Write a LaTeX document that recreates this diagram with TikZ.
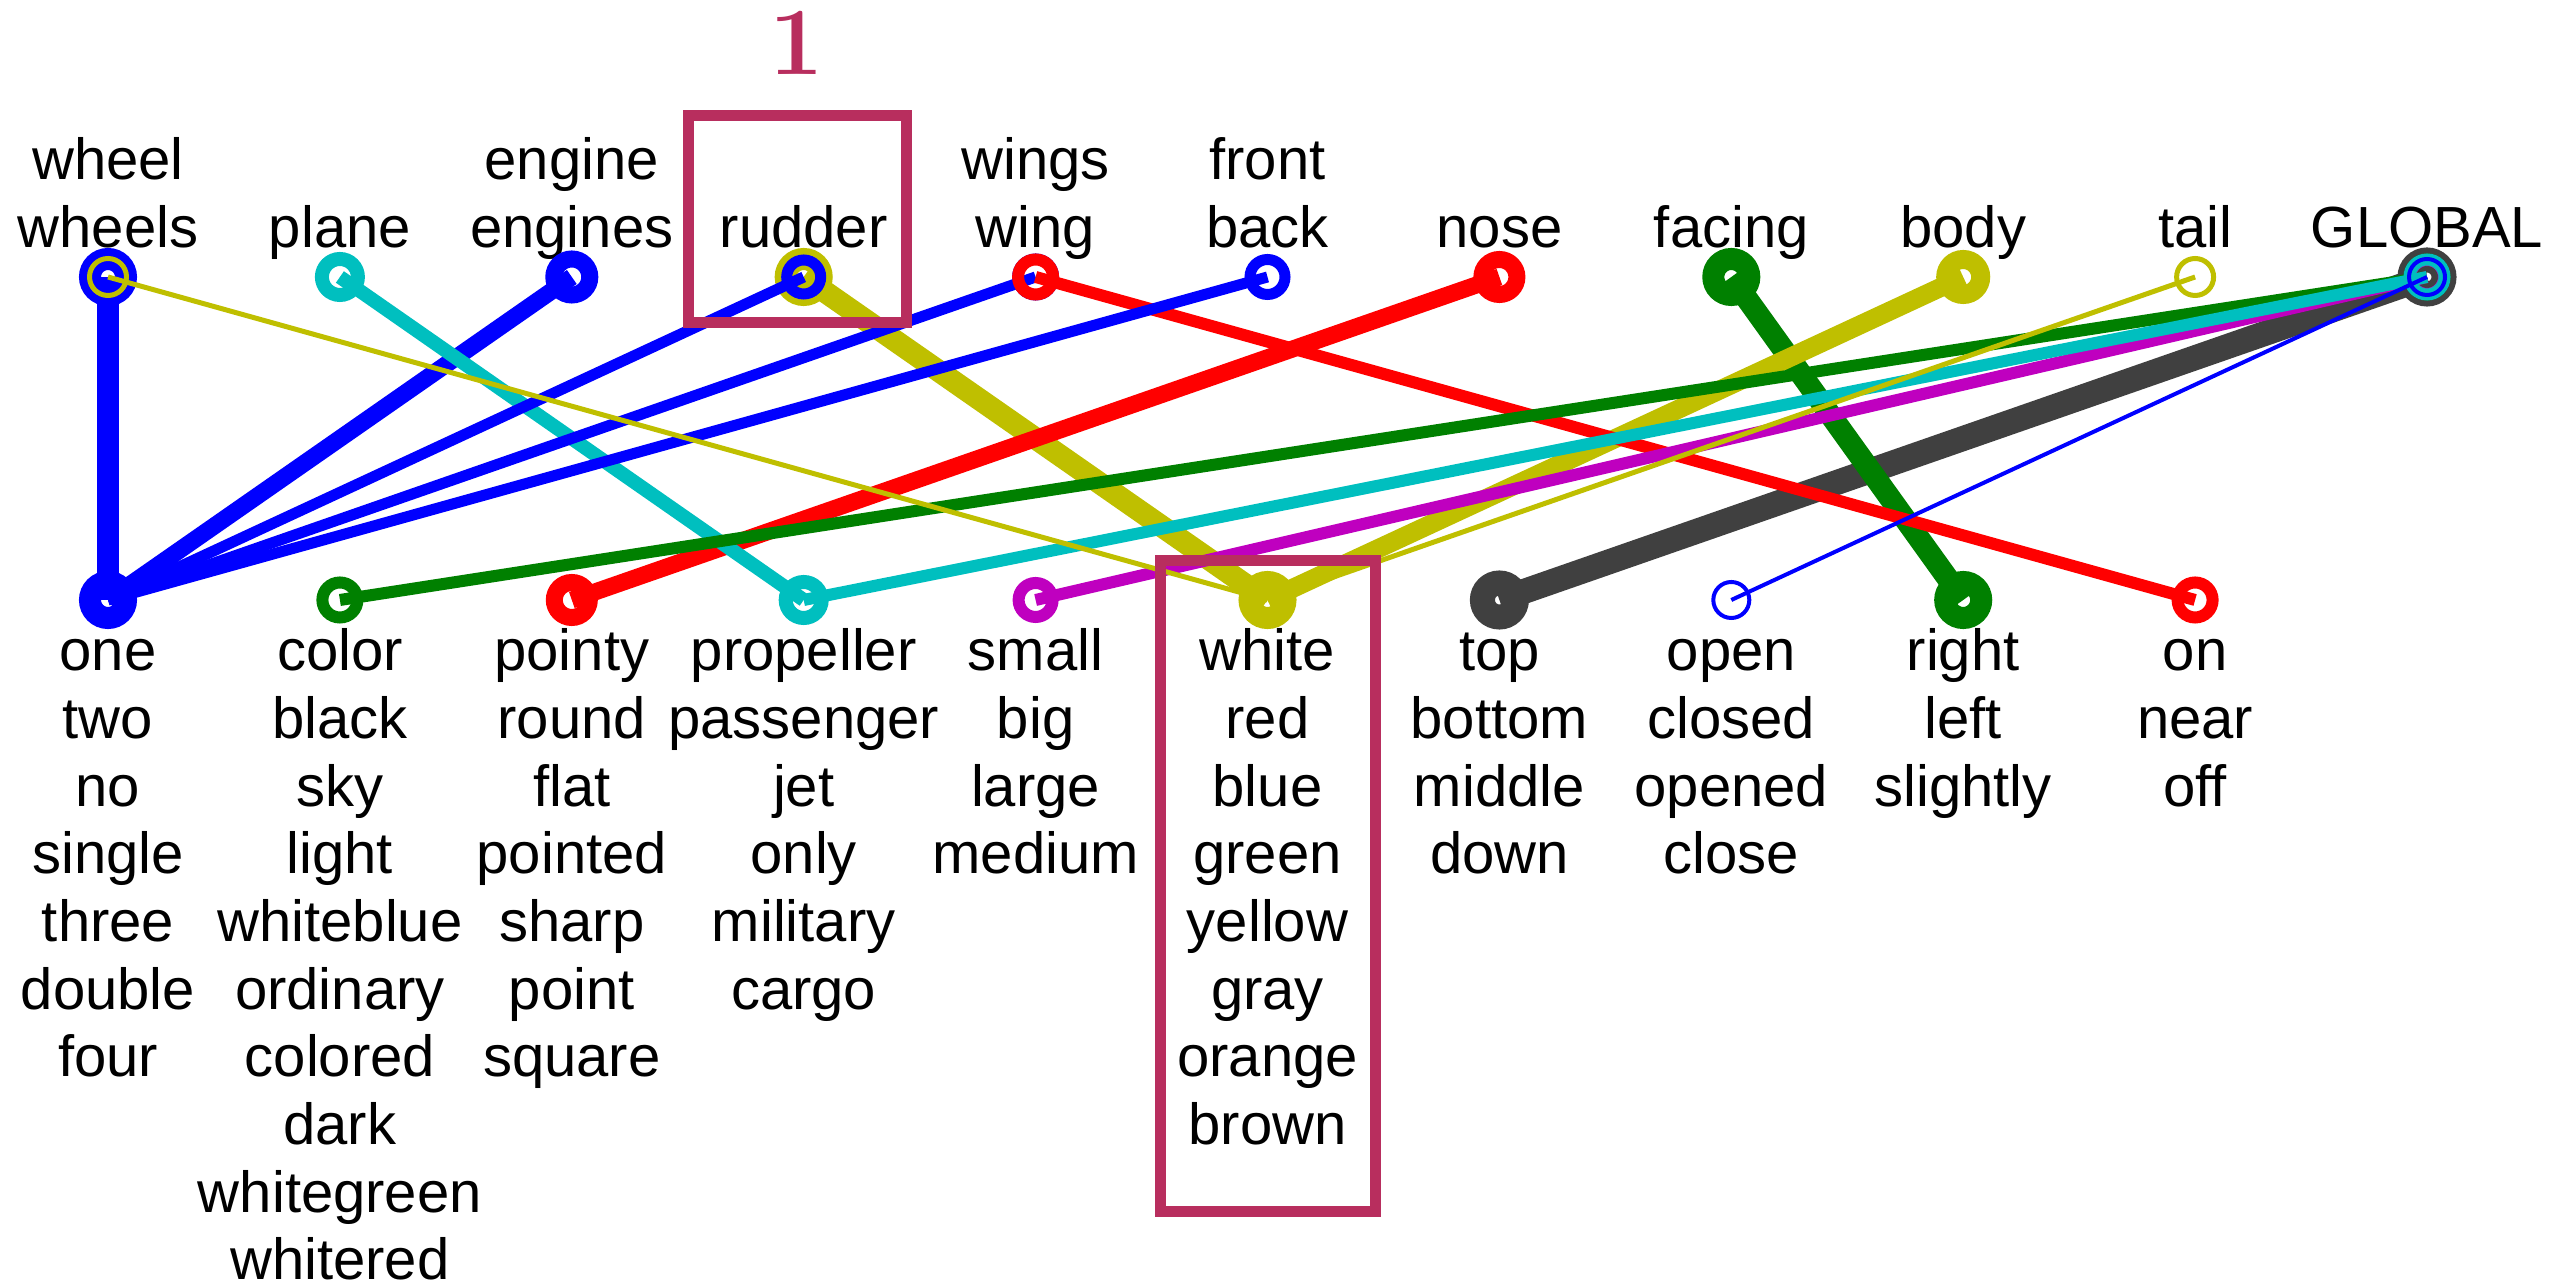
\documentclass[tikz,border=0pt]{standalone}
\usepackage{fontspec}
\newfontfamily\lab{Liberation Sans}
\definecolor{cb}{HTML}{0000FF}
\definecolor{cy}{HTML}{BFBF00}
\definecolor{cc}{HTML}{00BFBF}
\definecolor{cr}{HTML}{FF0000}
\definecolor{cg}{HTML}{008000}
\definecolor{cm}{HTML}{BF00BF}
\definecolor{ck}{HTML}{404040}
\definecolor{boxc}{HTML}{B82E5E}
% #1 from, #2 to, #3 width (px), #4 colour, #5 ring radius (px)
\newcommand\linkedge[5]{%
  \draw[line width=#3*0.2845pt, draw=#4, line cap=butt] (#1) -- (#2);
  \draw[line width=#3*0.2845pt, draw=#4] (#1) circle[radius=#5*0.01cm] (#2) circle[radius=#5*0.01cm];
}
\begin{document}
\begin{tikzpicture}[x=0.01cm,y=-0.01cm]
\tikzset{
  lbl/.style={font=\lab\fontsize{16.5}{19.25}\selectfont, align=center, anchor=base, inner sep=0pt},
  hibox/.style={draw=boxc, line width=3.13pt, rectangle, inner sep=0pt},
}
\useasboundingbox (0,0) rectangle (2566,1286);
% vertices
\coordinate (wheel) at (108,277);
\coordinate (plane) at (339.9,277);
\coordinate (engine) at (571.8,277);
\coordinate (rudder) at (803.7,277);
\coordinate (wing) at (1035.6,277);
\coordinate (back) at (1267.5,277);
\coordinate (nose) at (1499.4,277);
\coordinate (facing) at (1731.3,277);
\coordinate (body) at (1963.2,277);
\coordinate (tail) at (2195.1,277);
\coordinate (global) at (2427,277);
\coordinate (one) at (108,600);
\coordinate (color) at (339.9,600);
\coordinate (pointy) at (571.8,600);
\coordinate (propeller) at (803.7,600);
\coordinate (small) at (1035.6,600);
\coordinate (white) at (1267.5,600);
\coordinate (top) at (1499.4,600);
\coordinate (open) at (1731.3,600);
\coordinate (right) at (1963.2,600);
\coordinate (on) at (2195.1,600);
% labels top (anchor base = last line)
\node[lbl] (lwheel) at (108,247.5) {wheel\\wheels};
\node[lbl] (lplane) at (339.9,247.5) {plane};
\node[lbl] (lengine) at (571.8,247.5) {engine\\engines};
\node[lbl] (lrudder) at (803.7,247.5) {rudder};
\node[lbl] (lwing) at (1035.6,247.5) {wings\\wing};
\node[lbl] (lback) at (1267.5,247.5) {front\\back};
\node[lbl] (lnose) at (1499.4,247.5) {nose};
\node[lbl] (lfacing) at (1731.3,247.5) {facing};
\node[lbl] (lbody) at (1963.2,247.5) {body};
\node[lbl] (ltail) at (2195.1,247.5) {tail};
\node[lbl] (lglobal) at (2427,247.5) {GLOBAL};
% labels bottom (anchor base = last line)
\node[lbl] (lone) at (108,1077.0) {one\\two\\no\\single\\three\\double\\four};
\node[lbl] (lcolor) at (339.9,1279.9) {color\\black\\sky\\light\\whiteblue\\ordinary\\colored\\dark\\whitegreen\\whitered};
\node[lbl] (lpointy) at (571.8,1077.0) {pointy\\round\\flat\\pointed\\sharp\\point\\square};
\node[lbl] (lpropeller) at (803.7,1009.3) {propeller\\passenger\\jet\\only\\military\\cargo};
\node[lbl] (lsmall) at (1035.6,874.0) {small\\big\\large\\medium};
\node[lbl] (lwhite) at (1267.5,1144.6) {white\\red\\blue\\green\\yellow\\gray\\orange\\brown};
\node[lbl] (ltop) at (1499.4,874.0) {top\\bottom\\middle\\down};
\node[lbl] (lopen) at (1731.3,874.0) {open\\closed\\opened\\close};
\node[lbl] (lright) at (1963.2,806.3) {right\\left\\slightly};
\node[lbl] (lon) at (2195.1,806.3) {on\\near\\off};
% edges, thickest first
\linkedge{global}{top}{25}{ck}{17}
\linkedge{wheel}{one}{22}{cb}{18}
\linkedge{rudder}{white}{22}{cy}{18}
\linkedge{facing}{right}{22}{cg}{18}
\linkedge{body}{white}{19}{cy}{17.5}
\linkedge{engine}{one}{17}{cb}{18}
\linkedge{nose}{pointy}{17}{cr}{17.5}
\linkedge{plane}{propeller}{14}{cc}{18}
\linkedge{wing}{one}{11}{cb}{18}
\linkedge{wing}{on}{12}{cr}{17.5}
\linkedge{global}{color}{12}{cg}{17.5}
\linkedge{global}{small}{12}{cm}{17}
\linkedge{global}{propeller}{12}{cc}{17.5}
\linkedge{back}{one}{11}{cb}{17.5}
\linkedge{rudder}{one}{11}{cb}{17}
\linkedge{wheel}{white}{5}{cy}{18.5}
\linkedge{tail}{white}{5}{cy}{18.5}
\linkedge{global}{open}{4}{cb}{18}
% highlight boxes
\node[hibox, minimum width=2.18cm, minimum height=2.07cm] (boxa) at (797.5,219) {};
\node[hibox, minimum width=2.15cm, minimum height=6.5cm] (boxb) at (1268,886) {};
\node[text=boxc, font=\bfseries\fontsize{27.4}{30}\selectfont, anchor=base, inner sep=0pt] (num) at (797,75) {1};
\end{tikzpicture}
\end{document}
